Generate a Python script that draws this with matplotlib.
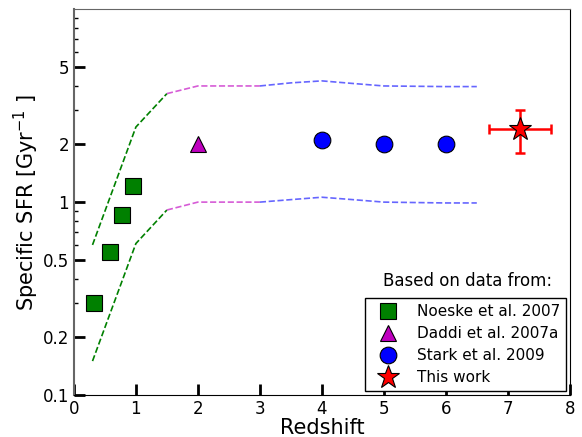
import matplotlib
matplotlib.use("Agg")
import matplotlib.pyplot as plt
from matplotlib.ticker import FixedLocator, FixedFormatter, LogLocator, NullFormatter

# Data
noeske_z = [0.32, 0.58, 0.77, 0.96]
noeske_ssfr = [0.30, 0.55, 0.86, 1.21]
daddi_z = [2.0]
daddi_ssfr = [2.0]
stark_z = [4.0, 5.0, 6.0]
stark_ssfr = [2.1, 2.0, 2.0]
this_z = [7.2]
this_ssfr = [2.4]
this_zerr = [0.5]
this_err_lo = [0.6]
this_err_hi = [0.6]

green_z = [0.3, 1.0, 1.5]
green_hi = [0.6, 2.45, 3.65]
green_lo = [0.15, 0.61, 0.91]
mag_z = [1.5, 2.0, 3.0]
mag_hi = [3.65, 4.0, 4.0]
mag_lo = [0.91, 1.0, 1.0]
blue_z = [3.0, 3.5, 4.0, 4.5, 5.0, 6.0, 6.5]
blue_hi = [4.0, 4.15, 4.25, 4.12, 4.0, 3.97, 3.97]
blue_lo = [1.0, 1.03, 1.06, 1.03, 1.0, 0.99, 0.99]

yticks = [0.1, 0.2, 0.5, 1, 2, 5]
ytick_labels = ["0.1", "0.2", "0.5", "1", "2", "5"]
xticks = [0, 1, 2, 3, 4, 5, 6, 7, 8]

fig = plt.figure(figsize=(5.82, 4.37), dpi=100)
ax = fig.add_axes([0.127, 0.096, 0.852, 0.883])

ax.plot(green_z, green_hi, '--', color='#008000', lw=1.2)
ax.plot(green_z, green_lo, '--', color='#008000', lw=1.2)
ax.plot(mag_z, mag_hi, '--', color='#cc33cc', lw=1.2, alpha=0.8)
ax.plot(mag_z, mag_lo, '--', color='#cc33cc', lw=1.2, alpha=0.8)
ax.plot(blue_z, blue_hi, '--', color='#0000ff', lw=1.2, alpha=0.6)
ax.plot(blue_z, blue_lo, '--', color='#0000ff', lw=1.2, alpha=0.6)

ax.plot(noeske_z, noeske_ssfr, 's', color='#008000', mec='black', mew=0.8,
        ms=11.5, ls='none', label='Noeske et al. 2007')
ax.plot(daddi_z, daddi_ssfr, '^', color='#bf00bf', mec='black', mew=0.8,
        ms=12, ls='none', label='Daddi et al. 2007a')
ax.plot(stark_z, stark_ssfr, 'o', color='#0000ff', mec='black', mew=0.8,
        ms=12, ls='none', label='Stark et al. 2009')
ax.errorbar(this_z, this_ssfr, xerr=this_zerr, yerr=[this_err_lo, this_err_hi],
            fmt='none', ecolor='red', elinewidth=1.8, capsize=3.5, capthick=1.8)
ax.plot(this_z, this_ssfr, '*', color='red', mec='black', mew=0.8,
        ms=17, ls='none', label='This work')

ax.set_yscale('log')
ax.set_xlim(0, 8)
ax.set_ylim(0.1, 10)
ax.yaxis.set_major_locator(FixedLocator(yticks))
ax.yaxis.set_major_formatter(FixedFormatter(ytick_labels))
ax.yaxis.set_minor_locator(LogLocator(base=10, subs=range(2, 10)))
ax.yaxis.set_minor_formatter(NullFormatter())
ax.set_xticks(xticks)

ax.tick_params(which='major', direction='in', length=8, width=2, labelsize=12,
               top=False, right=False)
ax.tick_params(which='minor', direction='in', length=3, width=1,
               top=False, right=False)
for s in ['left', 'top']:
    ax.spines[s].set_color('#666666')
ax.spines['left'].set_linewidth(1.5)

ax.set_xlabel('Redshift', fontsize=15, labelpad=0)
ax.set_ylabel(r'Specific SFR [Gyr$^{-1}$ ]', fontsize=15, labelpad=1)

leg = ax.legend(loc='lower right', fontsize=11, numpoints=1, fancybox=False,
                edgecolor='black', framealpha=1, borderaxespad=0.25,
                handletextpad=0.8, labelspacing=0.45, borderpad=0.4,
                handlelength=2.2)
leg.get_frame().set_linewidth(1.0)
ax.text(0.794, 0.295, 'Based on data from:', transform=ax.transAxes,
        ha='center', va='center', fontsize=12)

fig.savefig('out.png', dpi=100)
